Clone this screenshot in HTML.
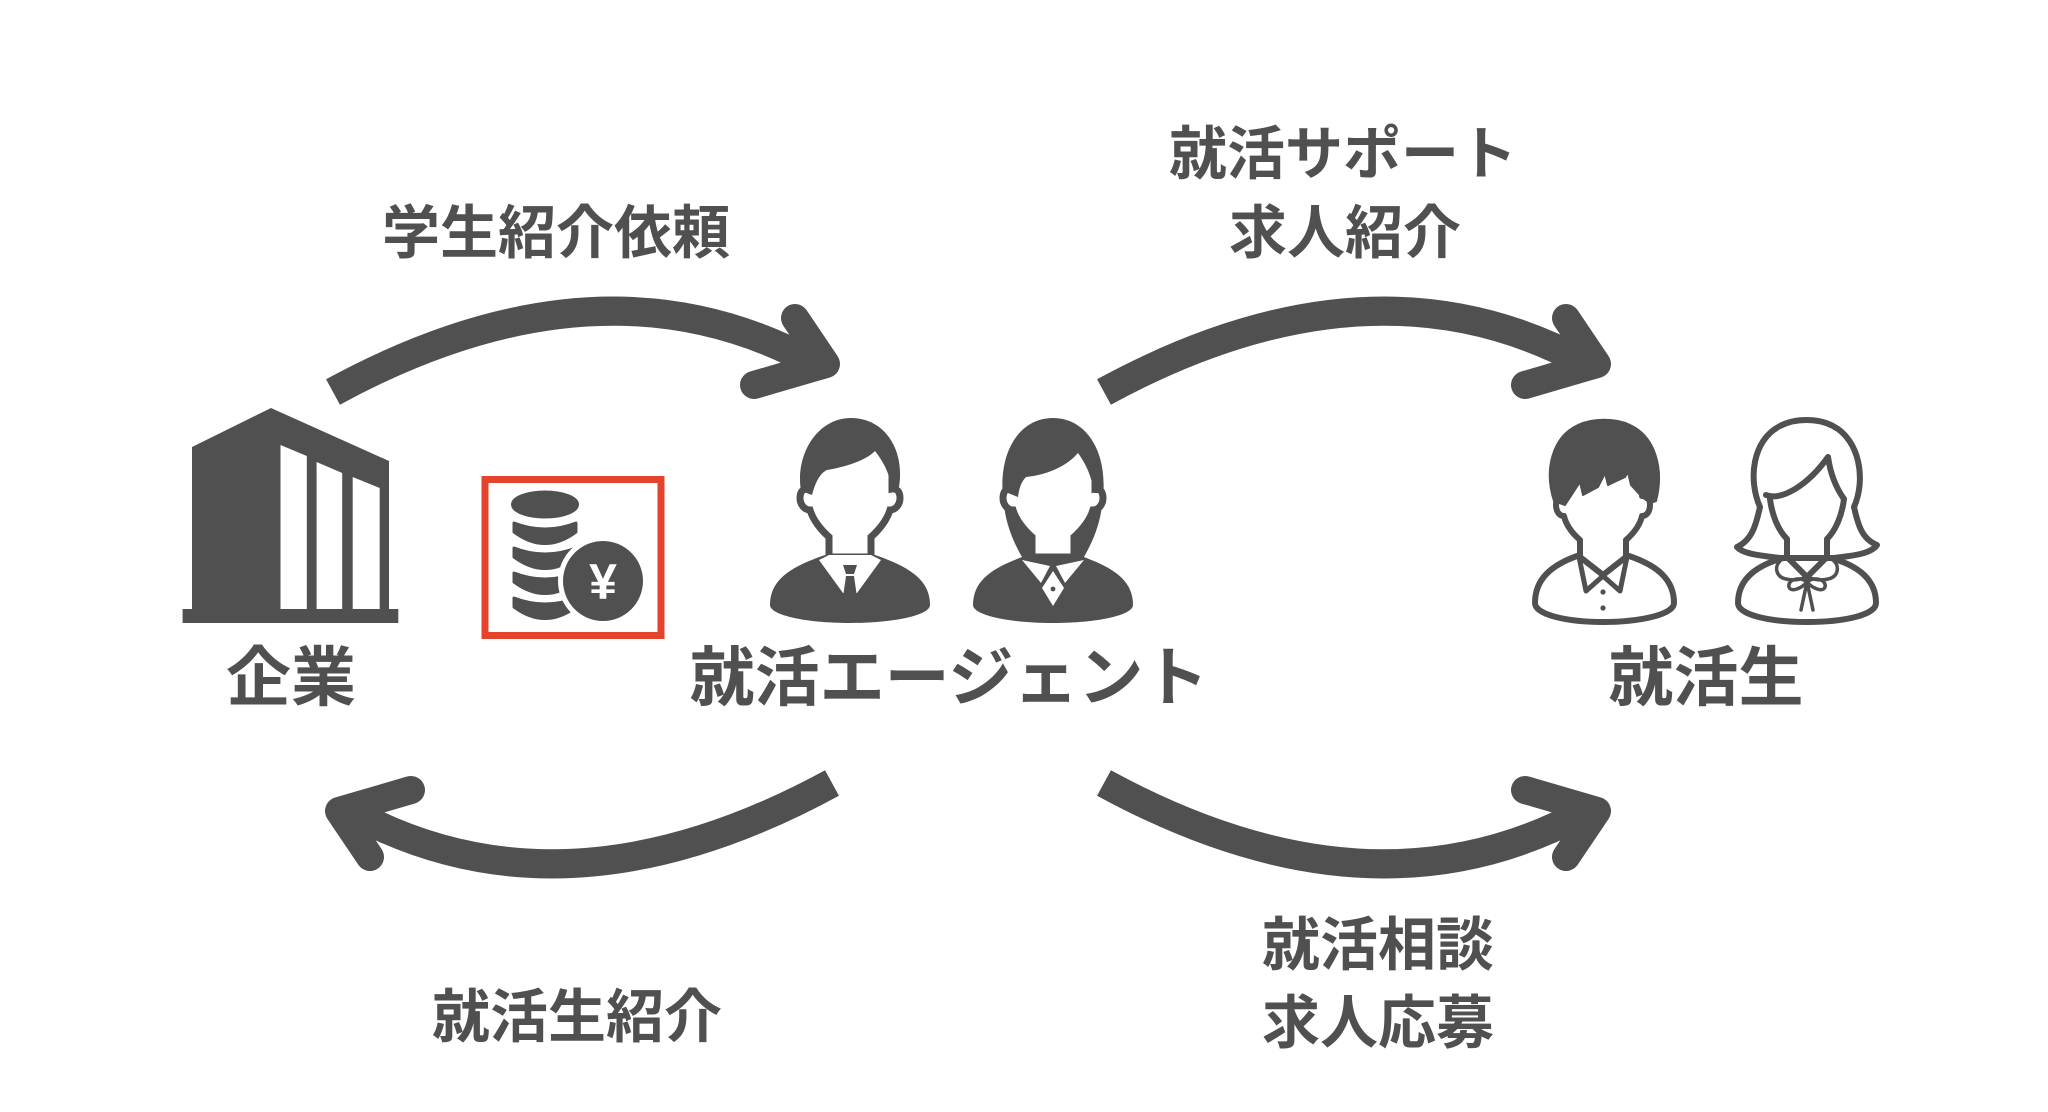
<!DOCTYPE html>
<html><head><meta charset="utf-8"><style>
html,body{margin:0;padding:0;background:#fff;}
svg{display:block;}
text{font-family:"Liberation Sans","Noto Sans CJK JP",sans-serif;font-weight:700;fill:#505050;}
</style></head><body>
<svg width="2048" height="1112" viewBox="0 0 2048 1112" xmlns="http://www.w3.org/2000/svg">
<rect width="2048" height="1112" fill="#fff"/>

<!-- Arrows -->
<g fill="none" stroke="#505050">
  <path d="M333,392 Q599,247 812,362" stroke-width="29" stroke-linecap="butt"/>
  <path d="M795,318 L826,364 L754,385" stroke-width="28" stroke-linejoin="round" stroke-linecap="round"/>
</g>
<g transform="translate(771,0)" fill="none" stroke="#505050">
  <path d="M333,392 Q599,247 812,362" stroke-width="29" stroke-linecap="butt"/>
  <path d="M795,318 L826,364 L754,385" stroke-width="28" stroke-linejoin="round" stroke-linecap="round"/>
</g>
<g transform="matrix(-1,0,0,-1,1165,1175)" fill="none" stroke="#505050">
  <path d="M333,392 Q599,247 812,362" stroke-width="29" stroke-linecap="butt"/>
  <path d="M795,318 L826,364 L754,385" stroke-width="28" stroke-linejoin="round" stroke-linecap="round"/>
</g>
<g transform="matrix(1,0,0,-1,771,1175)" fill="none" stroke="#505050">
  <path d="M333,392 Q599,247 812,362" stroke-width="29" stroke-linecap="butt"/>
  <path d="M795,318 L826,364 L754,385" stroke-width="28" stroke-linejoin="round" stroke-linecap="round"/>
</g>

<!-- Building -->
<g fill="#505050">
  <polygon points="192,447 271,408 389,461 389,610 192,610"/>
  <rect x="182.6" y="609" width="215.7" height="14"/>
</g>
<g fill="#fff">
  <polygon points="280.5,445 306.8,456 306.8,609 280.5,609"/>
  <polygon points="316.6,462 342.2,473 342.2,609 316.6,609"/>
  <polygon points="352.7,477 379.7,488 379.7,609 352.7,609"/>
</g>

<!-- Coins in red box -->
<rect x="485" y="479.5" width="176" height="156" fill="none" stroke="#e5432b" stroke-width="7"/>
<g fill="#505050" stroke="#505050" stroke-width="3" stroke-linejoin="round">
  <ellipse cx="545" cy="504.5" rx="32.5" ry="12.5"/>
  <path d="M514,523 Q545,535 576,523 L576,532 Q545,555 514,532 Z"/>
  <path d="M514,548 Q545,560 576,548 L576,557 Q545,580 514,557 Z"/>
  <path d="M514,573 Q545,585 576,573 L576,582 Q545,605 514,582 Z"/>
  <path d="M514,598 Q545,610 576,598 L576,607 Q545,630 514,607 Z"/>
</g>
<circle cx="603" cy="581" r="45" fill="#fff"/>
<circle cx="603" cy="581" r="40" fill="#505050"/>
<text x="603" y="599" text-anchor="middle" style="font-family:'Liberation Sans',sans-serif;font-size:50px;fill:#fff;">¥</text>

<!-- Male agent -->
<g transform="translate(765,415)">
  <path d="M64,142 L64,122 C56,115 48,105 45,95 C39,95 35,89 35,83 C35,77 38,73 43,74 L43,55 C43,30 61,12 85,12 C109,12 127,30 127,55 L127,74 C132,73 135,77 135,83 C135,89 131,95 125,95 C122,105 114,115 106,122 L106,142 Z" fill="#fff" stroke="#505050" stroke-width="7"/>
  <path d="M36,76 C30,40 52,3 86,3 C120,3 140,35 134,72 L127,74 C125,62 121,50 110,36 C100,46 80,52 62,55 C55,58 50,68 47,80 Z" fill="#505050"/>
  <path d="M5,190 C5,165 25,152 60,140 L110,140 C145,152 165,165 165,190 C165,200 130,208 85,208 C40,208 5,200 5,190 Z" fill="#505050"/>
  <polygon points="54,145 64,140 106,140 116,145 92,178 78,178" fill="#fff"/>
  <polygon points="78,150 92,150 89,159 81,159" fill="#505050"/>
  <polygon points="81,161 89,161 92,182 85,190 78,182" fill="#505050"/>
</g>

<!-- Female agent -->
<g transform="translate(968,415)">
  <path d="M36,90 C28,40 50,3 85,3 C120,3 142,40 134,90 C132,110 124,128 116,142 L54,142 C46,128 38,110 36,90 Z" fill="#505050"/>
  <path d="M64,142 L64,122 C56,115 48,105 45,95 C39,95 35,89 35,83 C35,77 38,73 43,74 L43,55 C43,30 61,12 85,12 C109,12 127,30 127,55 L127,74 C132,73 135,77 135,83 C135,89 131,95 125,95 C122,105 114,115 106,122 L106,142 Z" fill="#fff" stroke="#505050" stroke-width="7"/>
  <path d="M40,78 C34,40 55,4 85,4 C115,4 136,40 130,78 L126,78 C124,64 120,52 110,38 C98,52 78,60 58,62 C53,67 51,74 50,82 Z" fill="#505050"/>
  <path d="M5,190 C5,165 25,152 60,140 L110,140 C145,152 165,165 165,190 C165,200 130,208 85,208 C40,208 5,200 5,190 Z" fill="#505050"/>
  <polygon points="54,145 82,151 73,168" fill="#fff"/>
  <polygon points="116,145 88,151 97,168" fill="#fff"/>
  <polygon points="85,156 96,173 85,191 74,173" fill="#fff"/>
  <circle cx="85" cy="174" r="2.4" fill="#505050"/>
</g>

<!-- Male student -->
<g transform="translate(1528,415)" stroke="#505050" stroke-width="6" stroke-linejoin="round">
  <path d="M52,140 C22,150 7,165 7,188 C7,200 40,207 75,207 C110,207 146,200 146,188 C146,165 130,150 98,140 Z" fill="#fff"/>
  <path d="M52,142 L52,125 C44,118 38,110 36,101 C31,101 28,96 28,90 C28,84 31,80 36,81 L36,60 C36,30 53,10 75,10 C97,10 114,30 114,60 L114,81 C119,80 122,84 122,90 C122,96 119,101 114,101 C112,110 106,118 98,125 L98,142 L75,160 Z" fill="#fff"/>
  <path d="M26,86 C16,55 24,22 50,10 C65,3 88,3 102,10 C128,22 136,55 128,86 L122,88 L114,82 L103,70 L100,57 L97,62 L80,70 L77,58 L70,72 L55,80 L52,67 L37,90 Z" fill="#505050" stroke-width="2"/>
  <path d="M51,142 L58,176 L75,161 L92,176 L99,142" fill="none" stroke-width="5"/>
  <circle cx="75" cy="177" r="2.6" fill="#505050" stroke="none"/>
  <circle cx="75" cy="193" r="2.6" fill="#505050" stroke="none"/>
</g>

<!-- Female student -->
<g transform="translate(1730,415)" stroke="#505050" stroke-width="6" stroke-linejoin="round" stroke-linecap="round">
  <path d="M57,142 C25,150 8,165 8,188 C8,200 40,207 77,207 C114,207 146,200 146,188 C146,165 129,150 97,142 Z" fill="#fff"/>
  <path d="M30,92 C18,65 22,25 50,11 C65,3 88,3 103,11 C130,25 136,65 124,92 C128,110 132,124 147,130 C140,140 118,141 104,143 L50,143 C36,141 14,140 7,132 C22,125 26,110 30,92 Z" fill="#fff"/>
  <path d="M36,80 C52,86 78,70 98,42 C100,56 104,70 114,84" fill="none"/>
  <path d="M40,84 C42,100 48,115 57,124 L57,142 L77,162 L97,142 L97,124 C106,115 112,100 114,84" fill="none"/>
  <g stroke-width="3.5" fill="none">
    <path d="M50,146 C44,152 46,162 56,164 C64,166 72,164 77,162"/>
    <path d="M104,146 C110,152 108,162 98,164 C90,166 82,164 77,162"/>
    <path d="M77,167 C68,160 57,166 59,172 C61,178 72,173 77,167 Z"/>
    <path d="M77,167 C86,160 97,166 95,172 C93,178 82,173 77,167 Z"/>
    <path d="M77,167 L71,195 M77,167 L83,195"/>
  </g>
</g>

<!-- Node labels -->
<text x="291" y="700" text-anchor="middle" font-size="65">企業</text>
<text x="949" y="700" text-anchor="middle" font-size="65">就活エージェント</text>
<text x="1706" y="700" text-anchor="middle" font-size="65">就活生</text>

<!-- Edge labels -->
<text x="556" y="253" text-anchor="middle" font-size="58">学生紹介依頼</text>
<text x="1343" y="174" text-anchor="middle" font-size="58">就活サポート</text>
<text x="1345" y="253" text-anchor="middle" font-size="58">求人紹介</text>
<text x="577" y="1037" text-anchor="middle" font-size="58">就活生紹介</text>
<text x="1378" y="965" text-anchor="middle" font-size="58">就活相談</text>
<text x="1378" y="1043" text-anchor="middle" font-size="58">求人応募</text>
</svg>
</body></html>
